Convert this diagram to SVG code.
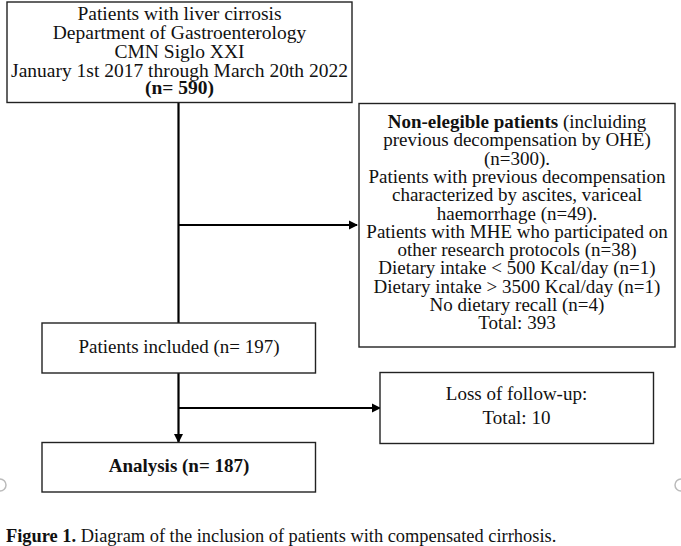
<svg xmlns="http://www.w3.org/2000/svg" width="681" height="546" viewBox="0 0 681 546">
<style>
.box{fill:#fff;stroke:#222;stroke-width:1.4}
.t{font-family:"Liberation Serif","Times New Roman",serif;font-size:19px;fill:#111;text-anchor:middle}
.tt{font-size:19.5px}
.b{font-weight:bold}
.cap{font-family:"Liberation Serif","Times New Roman",serif;font-size:18.4px;fill:#111}
.ln{stroke:#000;stroke-width:2.2;fill:none}
</style>
<defs>
<marker id="ah" markerWidth="10" markerHeight="10" refX="8" refY="5" orient="auto" markerUnits="userSpaceOnUse">
<path d="M0,0.5 L9,5 L0,9.5 Z" fill="#000"/>
</marker>
</defs>
<rect width="681" height="546" fill="#fff"/>
<g id="connectors">
<line class="ln" x1="178.5" y1="103" x2="178.5" y2="323"/>
<line class="ln" x1="178.5" y1="225" x2="357" y2="225" marker-end="url(#ah)"/>
<line class="ln" x1="178.5" y1="373" x2="178.5" y2="442" marker-end="url(#ah)"/>
<line class="ln" x1="178.5" y1="408" x2="380" y2="408" marker-end="url(#ah)"/>
</g>
<g id="source">
<rect class="box" x="7" y="2" width="345" height="100.5"/>
<text class="t tt" x="179.5" y="20">Patients with liver cirrosis</text>
<text class="t tt" x="179.5" y="39">Department of Gastroenterology</text>
<text class="t tt" x="179.5" y="58">CMN Siglo XXI</text>
<text class="t tt" x="179.5" y="76.5">January 1st 2017 through March 20th 2022</text>
<text class="t tt b" x="179.5" y="94">(n= 590)</text>
</g>
<g id="excluded">
<rect class="box" x="359" y="103.5" width="316" height="243.5"/>
<text class="t" x="517" y="128"><tspan class="b">Non-elegible patients</tspan> (incluiding</text>
<text class="t" x="517" y="146.3">previous decompensation by OHE)</text>
<text class="t" x="517" y="164.6">(n=300).</text>
<text class="t" x="517" y="182.9">Patients with previous decompensation</text>
<text class="t" x="517" y="201.2">characterized by ascites, variceal</text>
<text class="t" x="517" y="219.5">haemorrhage (n=49).</text>
<text class="t" x="517" y="237.8">Patients with MHE who participated on</text>
<text class="t" x="517" y="256.1">other research protocols (n=38)</text>
<text class="t" x="517" y="274.4">Dietary intake &lt; 500 Kcal/day (n=1)</text>
<text class="t" x="517" y="292.7">Dietary intake &gt; 3500 Kcal/day (n=1)</text>
<text class="t" x="517" y="311">No dietary recall (n=4)</text>
<text class="t" x="517" y="329.3">Total: 393</text>
</g>
<g id="included">
<rect class="box" x="42" y="323" width="273.5" height="50"/>
<text class="t" x="179" y="353">Patients included (n= 197)</text>
</g>
<g id="loss">
<rect class="box" x="380" y="372.5" width="273.5" height="71"/>
<text class="t" x="516.5" y="399.5">Loss of follow-up:</text>
<text class="t" x="516.5" y="423.5">Total: 10</text>
</g>
<g id="analysis">
<rect class="box" x="42" y="442.5" width="273.5" height="49.5"/>
<text class="t b" x="179" y="472">Analysis (n= 187)</text>
</g>
<path d="M0,479 A6,6 0 0 1 0,491" fill="none" stroke="#bbb" stroke-width="1.5"/>
<path d="M681,479 A6,6 0 0 0 681,491" fill="none" stroke="#bbb" stroke-width="1.5"/>
<text class="cap" x="6" y="542"><tspan font-weight="bold">Figure 1.</tspan> Diagram of the inclusion of patients with compensated cirrhosis.</text>
</svg>
